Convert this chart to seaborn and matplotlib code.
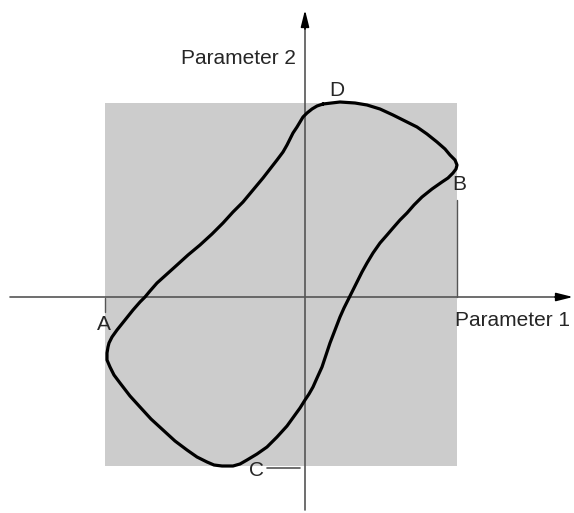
#!/usr/bin/env python3

import pandas as pd
import seaborn as sns
from matplotlib import pyplot as plt
from matplotlib.patches import Rectangle

sns.set_style('white')
plt.rcParams['font.family'] = ['Liberation Sans', 'DejaVu Sans']

# closed loop, traced clockwise from point D
loop_x = [18, 35, 50, 62, 75, 88, 100, 112, 122, 132, 140, 145, 150, 152,
          151, 148, 143, 137, 127, 117, 109, 102, 95, 88, 82, 75, 68, 62,
          57, 52, 47, 43, 39, 35, 30, 25, 21, 17, 12, 8, 4, 0, -5, -18,
          -28, -38, -48, -58, -65, -72, -83, -91, -98, -108, -118, -130,
          -142, -154, -165, -175, -185, -191, -195, -198, -198, -197, -196,
          -193, -188, -180, -172, -165, -160, -155, -148, -138, -128, -117,
          -105, -93, -82, -72, -62, -52, -42, -35, -28, -22, -18, -15, -12,
          -8, -5, -2, 2, 7, 12, 18]
loop_y = [193, 195, 194, 192, 188, 182, 176, 170, 163, 155, 148, 142, 137,
          132, 128, 124, 119, 115, 108, 100, 92, 84, 77, 69, 62, 54, 44, 34,
          25, 15, 5, -3, -11, -20, -33, -46, -58, -70, -81, -90, -97, -103,
          -111, -129, -140, -150, -157, -163, -167, -169, -169, -168, -165,
          -160, -153, -144, -133, -122, -110, -99, -86, -78, -70, -63, -56,
          -50, -46, -40, -33, -23, -13, -5, 0, 6, 14, 23, 32, 42, 52, 63,
          74, 85, 95, 107, 119, 128, 137, 145, 152, 158, 164, 170, 175, 180,
          184, 188, 191, 193]

box_x = (-200, 152)
box_y = (-169, 194)

points = ['A', 'B', 'C', 'D']
point_x = [-201, 154, -49, 32]
point_y = [-28, 112, -174, 207]

loop = pd.DataFrame({'p1': loop_x, 'p2': loop_y, 'order': range(len(loop_x))})

fig = plt.figure(figsize=(5.74, 5.13), dpi=100)
ax = fig.add_axes([0, 0, 1, 1])

ax.add_patch(Rectangle((box_x[0], box_y[0]), box_x[1] - box_x[0],
                       box_y[1] - box_y[0], color='#cccccc', lw=0, zorder=0))

# axes with arrows
axis_color = '#555555'
arrow = dict(arrowstyle='-|>,head_length=1.0,head_width=0.25',
             color='black', lw=1.2, shrinkA=0, shrinkB=0)
ax.plot([-295, 262], [0, 0], color=axis_color, lw=1.2, zorder=1)
ax.plot([0, 0], [-213, 280], color=axis_color, lw=1.2, zorder=1)
ax.annotate('', xy=(268, 0), xytext=(250, 0), arrowprops=arrow)
ax.annotate('', xy=(0, 287), xytext=(0, 268), arrowprops=arrow)

# marker lines for A, B, C
ax.plot([box_x[0], box_x[0]], [-1, -15], color=axis_color, lw=1)
ax.plot([box_x[1], box_x[1]], [0, 97], color=axis_color, lw=1)
ax.plot([-38, -5], [-171, -171], color=axis_color, lw=1.2)

closed = pd.concat([loop, loop.iloc[[0]]], ignore_index=True)
sns.lineplot(data=closed, x='p1', y='p2', sort=False, color='black',
             lw=2.3, ax=ax, estimator=None, zorder=3,
             solid_joinstyle='round')
ax.set_xlim(-305, 269)
ax.set_ylim(-216, 297)
ax.axis('off')

for name, px, py in zip(points, point_x, point_y):
    ax.text(px, py, name, fontsize=15, ha='center', va='center')

ax.text(-67, 239, 'Parameter 2', fontsize=15, ha='center', va='center')
ax.text(150, -23, 'Parameter 1', fontsize=15, ha='left', va='center')

fig.savefig('out.png', dpi=100)
